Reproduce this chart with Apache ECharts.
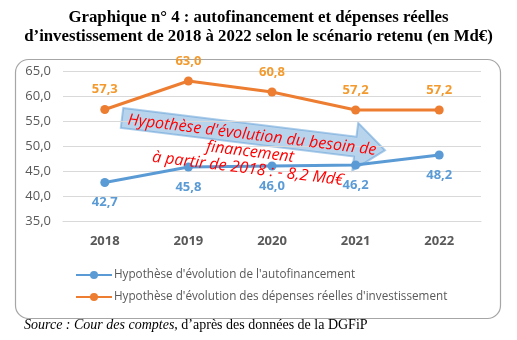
<!DOCTYPE html>
<html>
<head>
<meta charset="utf-8">
<script src="https://cdn.jsdelivr.net/npm/echarts@6/dist/echarts.min.js"></script>
<style>
  html, body { margin: 0; padding: 0; background: #fff; }
  #chart { width: 517px; height: 340px; }
</style>
</head>
<body>
<div id="chart"></div>
<script>
// Years on the horizontal axis
const years = ['2018', '2019', '2020', '2021', '2022'];
// Self-financing scenario (Md€)
const autofinancement = [42.7, 45.8, 46.0, 46.2, 48.2];
// Real investment spending scenario (Md€)
const depenses = [57.3, 63.0, 60.8, 57.2, 57.2];
// Series names shown in the legend
const seriesNames = [
  "Hypothèse d'évolution de l'autofinancement",
  "Hypothèse d'évolution des dépenses réelles d'investissement"
];
// Value axis range and step
const yMin = 35, yMax = 65, yStep = 5;

const fmt = v => v.toFixed(1).replace('.', ',');
const BLUE = '#5B9BD5', ORANGE = '#ED7D31';
const sans = '"Open Sans", "Noto Sans", sans-serif';
const serif = '"Liberation Serif", "DejaVu Serif", serif';

const chart = echarts.init(document.getElementById('chart'), null, { renderer: 'canvas' });
const rot = -7 * Math.PI / 180;

chart.setOption({
  animation: false,
  backgroundColor: '#fff',
  title: {
    text: "Graphique n° 4 : autofinancement et dépenses réelles\nd’investissement de 2018 à 2022 selon le scénario retenu (en Md€)",
    left: 'center', top: 3,
    textStyle: { fontFamily: serif, fontWeight: 'bold', fontSize: 16.8, lineHeight: 19, color: '#000' }
  },
  grid: { left: 63, right: 36, top: 71, bottom: 119 },
  xAxis: {
    type: 'category', data: years, boundaryGap: true,
    axisLine: { lineStyle: { color: '#D9D9D9' } },
    axisTick: { show: false },
    axisLabel: { color: '#595959', fontFamily: sans, fontWeight: 'bold', fontSize: 13, margin: 14 }
  },
  yAxis: {
    type: 'value', min: yMin, max: yMax, interval: yStep,
    axisLine: { show: false }, axisTick: { show: false },
    axisLabel: { color: '#595959', fontFamily: sans, fontSize: 13, margin: 12, formatter: v => fmt(v) },
    splitLine: { lineStyle: { color: '#D9D9D9', width: 1 } }
  },
  legend: {
    orient: 'vertical', left: 70, top: 264, itemGap: 10,
    itemWidth: 36, itemHeight: 10,
    textStyle: { color: '#595959', fontFamily: sans, fontSize: 11.7, padding: [0, 0, 0, -3] },
    data: seriesNames
  },
  series: [
    {
      name: seriesNames[0], type: 'line', data: autofinancement,
      color: BLUE, symbol: 'circle', symbolSize: 9,
      lineStyle: { width: 3, color: BLUE },
      label: { show: true, position: 'bottom', distance: 9, formatter: p => fmt(p.value),
        color: BLUE, fontFamily: sans, fontWeight: 'bold', fontSize: 13 },
      z: 3
    },
    {
      name: seriesNames[1], type: 'line', data: depenses,
      color: ORANGE, symbol: 'circle', symbolSize: 9,
      lineStyle: { width: 3, color: ORANGE },
      label: { show: true, position: 'top', distance: 9, formatter: p => fmt(p.value),
        color: '#F39A2E', fontFamily: sans, fontWeight: 'bold', fontSize: 13 },
      z: 3
    }
  ],
  graphic: [
    {
      type: 'rect', left: 13, top: 57, z: -1,
      shape: { width: 485, height: 259, r: 13 },
      style: { fill: 'none', stroke: '#A6A6A6', lineWidth: 1.2 }
    },
    {
      type: 'group', x: 122, y: 118, rotation: rot, z: 10,
      children: [
        {
          type: 'polygon',
          shape: { points: [[0, -10], [235, -10], [235, -24], [265, 0], [235, 24], [235, 10], [0, 10]] },
          style: { fill: 'rgba(157,195,230,0.72)', stroke: 'rgba(91,155,213,0.5)', lineWidth: 2 }
        }
      ]
    },
    {
      type: 'text', x: 250, y: 152, rotation: rot, z: 20,
      style: {
        text: "Hypothèse d'évolution du besoin de\nfinancement\nà partir de 2018 : - 8,2 Md€",
        fill: '#FF0000', fontFamily: sans, fontStyle: 'italic', fontSize: 16, lineHeight: 17,
        textAlign: 'center', textVerticalAlign: 'middle'
      }
    },
    {
      type: 'text', left: 24, top: 318, z: 20,
      style: {
        rich: {
          i: { fontFamily: serif, fontStyle: 'italic', fontSize: 14, fill: '#000' },
          n: { fontFamily: serif, fontSize: 14, fill: '#000' }
        },
        text: '{i|Source : Cour des comptes}{n|, d’après des données de la DGFiP}'
      }
    }
  ]
});
</script>
</body>
</html>
